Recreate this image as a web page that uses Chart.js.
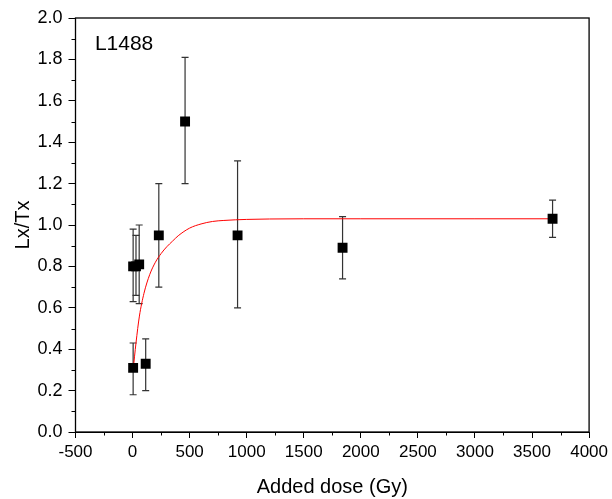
<!DOCTYPE html>
<html>
<head>
<meta charset="utf-8">
<script src="https://cdn.jsdelivr.net/npm/chart.js@4/dist/chart.umd.min.js"></script>
<style>
  html, body { margin: 0; padding: 0; background: #fff; }
  canvas { display: block; }
</style>
</head>
<body>
<canvas id="c" width="612" height="499"></canvas>
<script>
// ---- data ----
const sampleName = 'L1488';
const xTitle = 'Added dose (Gy)';
const yTitle = 'Lx/Tx';
const doses   = [5, 5, 30, 58, 115, 230, 460, 920, 1840, 3680];
const lxtx    = [0.31, 0.80, 0.80, 0.81, 0.33, 0.95, 1.50, 0.95, 0.89, 1.03];
const errLow  = [0.18, 0.63, 0.66, 0.62, 0.20, 0.70, 1.20, 0.60, 0.74, 0.94];
const errHigh = [0.43, 0.98, 0.95, 1.00, 0.45, 1.20, 1.81, 1.31, 1.04, 1.12];
// fitted growth curve
const curveDose = [5, 30, 60, 100, 150, 200, 250, 300, 350, 400, 500, 600, 700, 800, 1000, 1200, 1500, 2000, 3000, 3680];
const curveFit  = [0.30, 0.43, 0.56, 0.67, 0.76, 0.82, 0.862, 0.895, 0.922, 0.948, 0.985, 1.005, 1.017, 1.022, 1.027, 1.029, 1.03, 1.03, 1.03, 1.03];
// axis ticks
const xMin = -500, xMax = 4000, xStep = 500;
const yMin = 0, yMax = 2.0, yStep = 0.2;

const FONT = "'Liberation Sans', Arial, sans-serif";

const pts = doses.map((d, i) => ({ x: d, y: lxtx[i] }));
const curve = curveDose.map((d, i) => ({ x: d, y: curveFit[i] }));

const decorPlugin = {
  id: 'decor',
  beforeDatasetsDraw(chart) {
    const { ctx, scales: { x, y } } = chart;
    ctx.save();
    ctx.strokeStyle = '#333';
    ctx.lineWidth = 1.2;
    const cap = 3.5;
    for (let i = 0; i < doses.length; i++) {
      const px = x.getPixelForValue(doses[i]);
      const lo = y.getPixelForValue(errLow[i]);
      const hi = y.getPixelForValue(errHigh[i]);
      ctx.beginPath();
      ctx.moveTo(px, lo); ctx.lineTo(px, hi);
      ctx.moveTo(px - cap, lo); ctx.lineTo(px + cap, lo);
      ctx.moveTo(px - cap, hi); ctx.lineTo(px + cap, hi);
      ctx.stroke();
    }
    ctx.restore();
  },
  afterDraw(chart) {
    const { ctx, chartArea: a, scales: { x, y } } = chart;
    ctx.save();
    ctx.strokeStyle = '#000';
    ctx.lineWidth = 1.3;
    ctx.strokeRect(a.left, a.top, a.right - a.left, a.bottom - a.top);
    // minor ticks
    ctx.lineWidth = 1;
    ctx.beginPath();
    for (let v = xMin + xStep / 2; v < xMax; v += xStep) {
      const px = Math.round(x.getPixelForValue(v)) + 0.5;
      ctx.moveTo(px, a.bottom); ctx.lineTo(px, a.bottom + 3.5);
    }
    for (let v = yMin + yStep / 2; v < yMax; v += yStep) {
      const py = Math.round(y.getPixelForValue(v)) + 0.5;
      ctx.moveTo(a.left, py); ctx.lineTo(a.left - 4, py);
    }
    ctx.stroke();
    // sample label
    ctx.fillStyle = '#000';
    ctx.font = '21px ' + FONT;
    ctx.textBaseline = 'alphabetic';
    ctx.textAlign = 'left';
    ctx.fillText(sampleName, x.getPixelForValue(-330), y.getPixelForValue(1.845));
    ctx.restore();
  }
};

new Chart(document.getElementById('c'), {
  type: 'scatter',
  data: {
    datasets: [
      {
        label: 'Lx/Tx',
        data: pts,
        showLine: false,
        pointStyle: 'rect',
        pointRadius: 7,
        pointHoverRadius: 7,
        backgroundColor: '#000',
        borderColor: '#000',
        borderWidth: 0
      },
      {
        label: 'fit',
        data: curve,
        showLine: true,
        pointRadius: 0,
        borderColor: '#ff0000',
        borderWidth: 1,
        cubicInterpolationMode: 'monotone',
        fill: false
      }
    ]
  },
  options: {
    responsive: false,
    devicePixelRatio: 1,
    animation: false,
    layout: { padding: { top: 18, right: 21, bottom: 0, left: 0 } },
    plugins: { legend: { display: false }, tooltip: { enabled: false } },
    scales: {
      x: {
        type: 'linear',
        min: xMin, max: xMax,
        afterFit(s) { s.height = 67; },
        ticks: {
          stepSize: xStep, autoSkip: false, maxRotation: 0, color: '#000',
          padding: 4,
          font: { family: FONT, size: 17 },
          callback: v => String(v)
        },
        grid: { display: true, drawOnChartArea: false, drawTicks: true, tickLength: 6, tickColor: '#000', color: '#000' },
        border: { display: true, color: '#000', width: 1 },
        title: { display: true, text: xTitle, color: '#000', font: { family: FONT, size: 20 }, padding: { top: 0, bottom: 0 } }
      },
      y: {
        type: 'linear',
        min: yMin, max: yMax,
        afterFit(s) { s.width = 75.5; },
        ticks: {
          stepSize: yStep, color: '#000', padding: 6,
          font: { family: FONT, size: 18 },
          callback: v => Number(v).toFixed(1)
        },
        grid: { display: true, drawOnChartArea: false, drawTicks: true, tickLength: 7, tickColor: '#000', color: '#000' },
        border: { display: true, color: '#000', width: 1 },
        title: { display: true, text: yTitle, color: '#000', font: { family: FONT, size: 20 }, padding: { top: 11, bottom: 0 } }
      }
    }
  },
  plugins: [decorPlugin]
});
</script>
</body>
</html>
